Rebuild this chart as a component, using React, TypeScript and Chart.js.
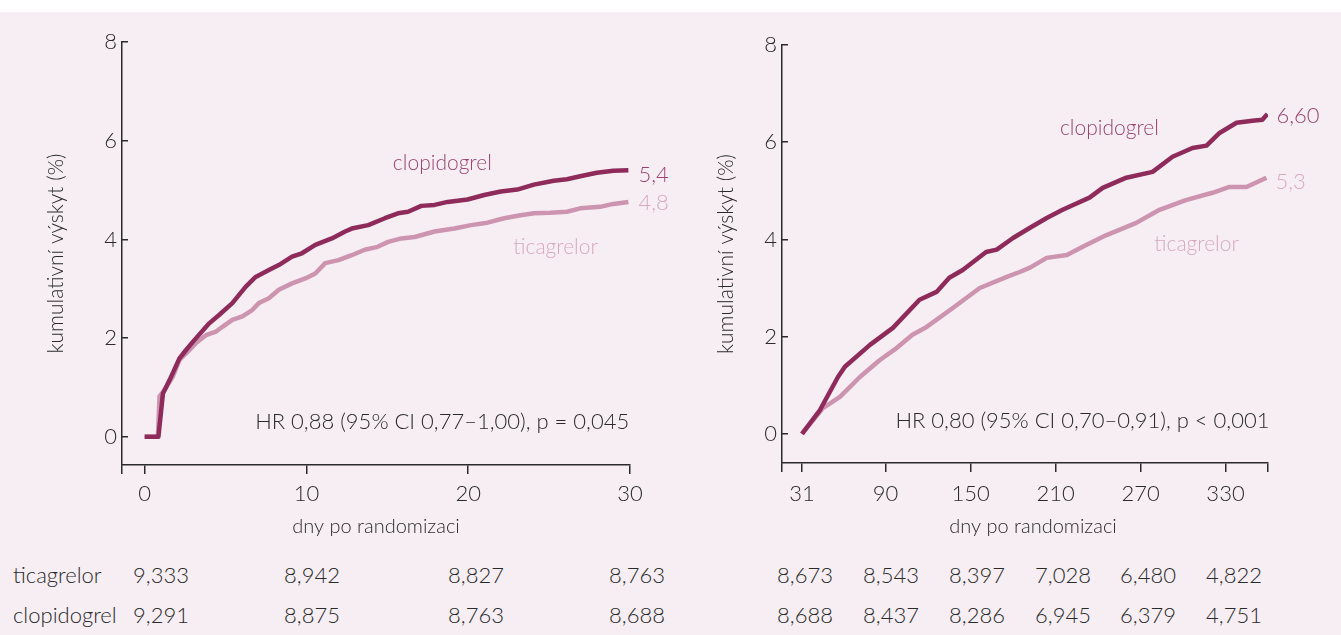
import React, { useEffect, useRef } from "react";
import { Chart, registerables } from "chart.js";

Chart.register(...registerables);

const FONT = "Lato, Roboto, 'Liberation Sans', Arial, sans-serif";
const PINK = "#f6eef3";
const INK = "#2a2a2a";
const DARK = "#8e2b5b";
const LIGHT = "#cd94af";
const DARK_TEXT = "#9a4472";
const LIGHT_TEXT = "#d6a9bf";

// ---------- data: days 0–30 ----------
const earlyTickLabels = [0, 10, 20, 30];
const earlyClopiDays = [0, 0.85, 1.13, 1.54, 2.15, 2.56, 3.07, 3.99, 4.6, 5.42, 6.24, 6.86, 7.68, 8.29, 9.11, 9.72, 10.55, 11.57, 12.39, 12.8, 13.82, 14.85, 15.66, 16.28, 17.1, 17.92, 18.73, 19.96, 20.99, 22.01, 23.03, 24.06, 25.29, 26.1, 26.92, 27.95, 28.97, 29.9];
const earlyClopiValues = [0, 0, 0.88, 1.15, 1.59, 1.76, 1.96, 2.3, 2.47, 2.71, 3.04, 3.24, 3.38, 3.48, 3.65, 3.72, 3.89, 4.02, 4.16, 4.22, 4.29, 4.43, 4.53, 4.56, 4.68, 4.7, 4.76, 4.81, 4.9, 4.97, 5.01, 5.11, 5.19, 5.22, 5.28, 5.35, 5.39, 5.4];
const earlyTicaDays = [0, 0.82, 0.92, 1.23, 1.74, 2.15, 2.56, 3.17, 3.79, 4.4, 4.81, 5.42, 6.04, 6.65, 7.06, 7.68, 8.29, 9.11, 9.93, 10.55, 11.16, 11.98, 12.8, 13.6, 14.4, 15.05, 15.87, 16.69, 17.92, 19.15, 20.17, 21.19, 22.22, 23.24, 24.06, 25.08, 26.1, 26.92, 28.15, 28.97, 29.9];
const earlyTicaValues = [0, 0, 0.82, 0.95, 1.22, 1.56, 1.69, 1.9, 2.06, 2.13, 2.23, 2.37, 2.44, 2.57, 2.71, 2.81, 2.98, 3.11, 3.21, 3.31, 3.52, 3.58, 3.68, 3.79, 3.85, 3.95, 4.02, 4.05, 4.16, 4.22, 4.29, 4.34, 4.43, 4.49, 4.53, 4.54, 4.56, 4.63, 4.66, 4.72, 4.76];

// ---------- data: days 31–360 ----------
const lateTickLabels = [31, 90, 150, 210, 270, 330];
const lateClopiDays = [31, 43.7, 56.4, 61.3, 79, 95.2, 114, 126, 135, 144.5, 161, 168.5, 180, 192, 203.8, 215, 234, 243.3, 260, 278.5, 292.6, 306.7, 316.6, 325.8, 337.8, 349, 356, 359.6];
const lateClopiValues = [0, 0.49, 1.17, 1.38, 1.83, 2.18, 2.76, 2.92, 3.21, 3.37, 3.74, 3.79, 4.03, 4.24, 4.44, 4.61, 4.86, 5.06, 5.27, 5.39, 5.7, 5.88, 5.93, 6.19, 6.4, 6.44, 6.46, 6.58];
const lateTicaDays = [31, 45.8, 57.8, 71.9, 86, 98, 109, 119, 137.5, 156.5, 175.6, 184.7, 192, 203.8, 218, 232, 246, 267, 283.4, 302, 320.8, 332.8, 344.8, 358.9];
const lateTicaValues = [0, 0.53, 0.76, 1.17, 1.52, 1.77, 2.04, 2.2, 2.59, 3.0, 3.23, 3.33, 3.42, 3.62, 3.68, 3.89, 4.09, 4.34, 4.61, 4.81, 4.96, 5.08, 5.08, 5.27];

const yTickValues = [0, 2, 4, 6, 8];

// ---------- at-risk table ----------
const earlyTicaAtRisk = ["9,333", "8,942", "8,827", "8,763"];
const earlyClopiAtRisk = ["9,291", "8,875", "8,763", "8,688"];
const lateTicaAtRisk = ["8,673", "8,543", "8,397", "7,028", "6,480", "4,822"];
const lateClopiAtRisk = ["8,688", "8,437", "8,286", "6,945", "6,379", "4,751"];

const toPoints = (xs: number[], ys: number[]) => xs.map((x, i) => ({ x, y: ys[i] }));

type Note = {
  text: string;
  color: string;
  size: number;
  align: CanvasTextAlign;
  x?: number;
  y?: number;
  ds?: number;
  axisTitle?: boolean;
  dx?: number;
  dy?: number;
};

function notesPlugin(notes: Note[]) {
  return {
    id: "notes",
    afterDatasetsDraw(chart: any) {
      const { ctx, scales, chartArea } = chart;
      ctx.save();
      for (const n of notes) {
        ctx.font = `300 ${n.size}px ${FONT}`;
        ctx.fillStyle = n.color;
        ctx.textAlign = n.align;
        ctx.textBaseline = "middle";
        let px: number, py: number;
        if (n.axisTitle) {
          px = (chartArea.left + chartArea.right) / 2 + (n.dx || 0);
          py = chartArea.bottom + (n.dy || 0);
        } else if (n.ds !== undefined) {
          const meta = chart.getDatasetMeta(n.ds);
          const last = meta.data[meta.data.length - 1];
          px = last.x + (n.dx || 0);
          py = last.y + (n.dy || 0);
        } else {
          px = scales.x.getPixelForValue(n.x);
          py = scales.y.getPixelForValue(n.y);
        }
        ctx.fillText(n.text, px, py);
      }
      ctx.restore();
    },
  };
}

type PanelProps = {
  left: number;
  width: number;
  clopi: { x: number; y: number }[];
  tica: { x: number; y: number }[];
  xMin: number;
  xMax: number;
  xLabels: number[];
  yMin: number;
  padTop: number;
  padRight: number;
  yWidth: number;
  xHeight: number;
  xLabelPad: number;
  notes: Note[];
};

const H = 540;

function Panel(p: PanelProps) {
  const ref = useRef<HTMLCanvasElement>(null);
  useEffect(() => {
    if (!ref.current) return;
    const tickVals = Array.from(new Set([p.xMin, ...p.xLabels, p.xMax]));
    const chart = new Chart(ref.current, {
      type: "line",
      data: {
        datasets: [
          {
            label: "clopidogrel",
            data: p.clopi,
            borderColor: DARK,
            borderWidth: 4.5,
            pointRadius: 0,
            tension: 0,
            borderJoinStyle: "round",
            order: 1,
          },
          {
            label: "ticagrelor",
            data: p.tica,
            borderColor: LIGHT,
            borderWidth: 4.5,
            pointRadius: 0,
            tension: 0,
            borderJoinStyle: "round",
            order: 2,
          },
        ],
      },
      options: {
        animation: false,
        responsive: false,
        devicePixelRatio: 1,
        layout: { padding: { top: p.padTop, right: p.padRight, left: 0, bottom: 0 } },
        plugins: { legend: { display: false }, tooltip: { enabled: false } },
        scales: {
          x: {
            type: "linear",
            min: p.xMin,
            max: p.xMax,
            afterBuildTicks: (s: any) => {
              s.ticks = tickVals.map((v) => ({ value: v }));
            },
            afterFit: (s: any) => {
              s.height = p.xHeight;
            },
            ticks: {
              autoSkip: false,
              maxRotation: 0,
              padding: p.xLabelPad,
              color: INK,
              font: { family: FONT, size: 22, weight: "300" },
              callback: (v: any) => (p.xLabels.includes(v) ? String(v) : ""),
            },
            grid: { drawOnChartArea: false, tickLength: 9, color: INK, tickColor: INK, lineWidth: 1.5 },
            border: { color: INK, width: 1.5 },
            title: { display: false },
          },
          y: {
            type: "linear",
            min: p.yMin,
            max: 8,
            afterBuildTicks: (s: any) => {
              s.ticks = yTickValues.map((v) => ({ value: v }));
            },
            afterFit: (s: any) => {
              s.width = p.yWidth;
            },
            ticks: {
              padding: 11,
              color: INK,
              font: { family: FONT, size: 22, weight: "300" },
            },
            grid: { drawOnChartArea: false, tickLength: -6, color: INK, tickColor: INK, lineWidth: 1.5 },
            border: { color: INK, width: 1.5 },
            title: {
              display: true,
              text: "kumulativní výskyt (%)",
              color: INK,
              font: { family: FONT, size: 21, weight: "300" },
              padding: { top: 44, bottom: 0 },
            },
          },
        },
      } as any,
      plugins: [notesPlugin(p.notes)],
    });
    return () => chart.destroy();
  }, []);
  return (
    <canvas
      ref={ref}
      width={p.width}
      height={H}
      style={{ position: "absolute", left: p.left, top: 12, width: p.width, height: H }}
    />
  );
}

const cellStyle: React.CSSProperties = {
  position: "absolute",
  transform: "translate(-50%, -50%)",
  fontFamily: FONT,
  fontWeight: 300,
  fontSize: 22,
  color: INK,
  whiteSpace: "nowrap",
  lineHeight: 1,
};

export default function App() {
  const earlyCols = [161, 312, 476, 637];
  const lateCols = [805, 891, 977, 1063, 1148, 1234];
  const rows = [575, 615];
  return (
    <div style={{ position: "fixed", left: 0, top: 0, width: 1341, height: 635, background: "#ffffff", overflow: "hidden" }}>
      <div style={{ position: "absolute", left: 0, top: 12, width: 1341, height: 623, background: PINK }} />
      <Panel
        left={0}
        width={680}
        clopi={toPoints(earlyClopiDays, earlyClopiValues)}
        tica={toPoints(earlyTicaDays, earlyTicaValues)}
        xMin={-1.4}
        xMax={30}
        xLabels={earlyTickLabels}
        yMin={-0.57}
        padTop={30}
        padRight={50}
        yWidth={122}
        xHeight={87}
        xLabelPad={7}
        notes={[
          { text: "dny po randomizaci", color: INK, size: 20, align: "center", axisTitle: true, dx: 0, dy: 62 },
          { text: "clopidogrel", color: DARK_TEXT, size: 21, align: "center", x: 18.4, y: 5.55 },
          { text: "ticagrelor", color: LIGHT_TEXT, size: 21, align: "center", x: 25.4, y: 3.85 },
          { text: "5,4", color: DARK_TEXT, size: 22, align: "left", ds: 0, dx: 10, dy: 5 },
          { text: "4,8", color: LIGHT_TEXT, size: 22, align: "left", ds: 1, dx: 10, dy: 1 },
          { text: "HR 0,88 (95% CI 0,77–1,00), p = 0,045", color: INK, size: 22, align: "right", x: 29.95, y: 0.3 },
        ]}
      />
      <Panel
        left={670}
        width={671}
        clopi={toPoints(lateClopiDays, lateClopiValues)}
        tica={toPoints(lateTicaDays, lateTicaValues)}
        xMin={16.9}
        xMax={360}
        xLabels={lateTickLabels}
        yMin={-0.6}
        padTop={33}
        padRight={73}
        yWidth={112}
        xHeight={89}
        xLabelPad={9}
        notes={[
          { text: "dny po randomizaci", color: INK, size: 20, align: "center", axisTitle: true, dx: 8, dy: 64 },
          { text: "clopidogrel", color: DARK_TEXT, size: 21, align: "center", x: 248, y: 6.28 },
          { text: "ticagrelor", color: LIGHT_TEXT, size: 21, align: "center", x: 309.6, y: 3.91 },
          { text: "6,60", color: DARK_TEXT, size: 22, align: "left", ds: 0, dx: 9, dy: 2 },
          { text: "5,3", color: LIGHT_TEXT, size: 22, align: "left", ds: 1, dx: 9, dy: 4 },
          { text: "HR 0,80 (95% CI 0,70–0,91), p < 0,001", color: INK, size: 22, align: "right", x: 361, y: 0.27 },
        ]}
      />
      <div style={{ ...cellStyle, transform: "translate(0, -50%)", left: 13, top: rows[0] }}>ticagrelor</div>
      <div style={{ ...cellStyle, transform: "translate(0, -50%)", left: 13, top: rows[1] }}>clopidogrel</div>
      {earlyTicaAtRisk.map((t, i) => (
        <div key={"et" + i} style={{ ...cellStyle, left: earlyCols[i], top: rows[0] }}>{t}</div>
      ))}
      {earlyClopiAtRisk.map((t, i) => (
        <div key={"ec" + i} style={{ ...cellStyle, left: earlyCols[i], top: rows[1] }}>{t}</div>
      ))}
      {lateTicaAtRisk.map((t, i) => (
        <div key={"lt" + i} style={{ ...cellStyle, left: lateCols[i], top: rows[0] }}>{t}</div>
      ))}
      {lateClopiAtRisk.map((t, i) => (
        <div key={"lc" + i} style={{ ...cellStyle, left: lateCols[i], top: rows[1] }}>{t}</div>
      ))}
    </div>
  );
}
